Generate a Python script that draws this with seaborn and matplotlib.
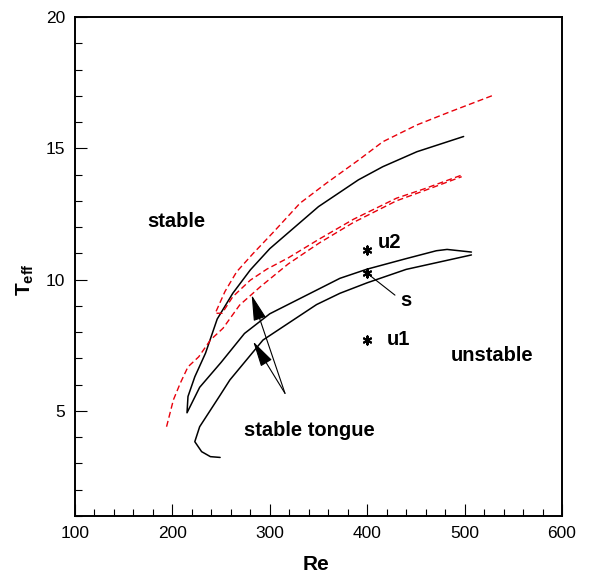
import numpy as np
import pandas as pd
import seaborn as sns
import matplotlib
matplotlib.use("Agg")
import matplotlib.pyplot as plt
from matplotlib.ticker import MultipleLocator

# black boundary: upper branch, tip, then middle branch back up
upper_re = [499, 451, 416, 391, 350, 300, 280, 262, 246, 234, 223, 216, 215]
upper_t = [15.45, 14.87, 14.3, 13.8, 12.78, 11.18, 10.37, 9.48, 8.5, 7.2, 6.3, 5.55, 4.93]
middle_re = [215, 228, 250, 274, 300, 348, 372, 400, 440, 471, 482, 507]
middle_t = [4.93, 5.9, 6.85, 7.95, 8.7, 9.6, 10.05, 10.4, 10.8, 11.1, 11.15, 11.05]
# lower black boundary
lower_re = [507, 440, 400, 372, 348, 293, 259, 249, 228, 223, 230, 239, 249]
lower_t = [10.94, 10.39, 9.88, 9.48, 9.05, 7.7, 6.18, 5.6, 4.4, 3.83, 3.45, 3.26, 3.23]

# red dashed curves
red_outer_re = [528, 485, 451, 416, 391, 358, 331, 304, 283, 266, 254, 244, 251]
red_outer_t = [17.0, 16.39, 15.89, 15.25, 14.55, 13.67, 12.91, 11.82, 11.0, 10.3, 9.55, 8.72, 8.72]
red_inner_re = [251, 262, 280, 297, 319, 351, 386, 430, 458, 497]
red_inner_t = [8.72, 9.35, 9.98, 10.4, 10.83, 11.55, 12.3, 13.1, 13.45, 13.98]
red_long_re = [194, 201, 208, 216, 227, 239, 252, 269, 290, 319, 351, 386, 430, 458, 497]
red_long_t = [4.4, 5.42, 6.05, 6.68, 7.06, 7.7, 8.15, 9.03, 9.72, 10.6, 11.4, 12.18, 13.0, 13.38, 13.92]

# marked points
star_re = [400, 400, 400]
star_t = [11.13, 10.24, 7.7]

# texts (left / baseline)
region_labels = ["stable", "unstable", "stable tongue"]
region_re = [174, 486, 273.5]
region_t = [12.01, 6.91, 4.04]
point_labels = ["u2", "u1"]
point_re = [411, 420]
point_t = [11.2, 7.51]
s_label_pos = (433.7, 9.0)
s_line_end = (428.5, 9.41)

# arrows for "stable tongue"
arrow_tail = (315.6, 5.67)
arrow_heads = [(281.4, 9.41), (283.0, 7.64)]

sns.set_style("ticks")
plt.rcParams['font.family'] = ['Liberation Sans', 'DejaVu Sans']
plt.rcParams['mathtext.fontset'] = 'custom'
plt.rcParams['mathtext.bf'] = 'Liberation Sans:bold'
plt.rcParams['mathtext.rm'] = 'Liberation Sans'
plt.rcParams['lines.scale_dashes'] = False
plt.rcParams['text.color'] = 'black'
plt.rcParams['axes.labelcolor'] = 'black'

fig = plt.figure(figsize=(5.89, 5.73), dpi=100)
ax = fig.add_axes([75 / 589, 57 / 573, 487 / 589, 499 / 573])

black_curves = [
    pd.DataFrame({"Re": upper_re + middle_re[1:], "Teff": upper_t + middle_t[1:]}),
    pd.DataFrame({"Re": lower_re, "Teff": lower_t}),
]
for df in black_curves:
    sns.lineplot(data=df, x="Re", y="Teff", sort=False, estimator=None,
                 color="black", lw=1.1, ax=ax)

red_curves = [
    pd.DataFrame({"Re": red_outer_re + red_inner_re[1:], "Teff": red_outer_t + red_inner_t[1:]}),
    pd.DataFrame({"Re": red_long_re, "Teff": red_long_t}),
]
for df in red_curves:
    sns.lineplot(data=df, x="Re", y="Teff", sort=False, estimator=None,
                 color="#e8000b", lw=1.0, linestyle=(0, (4.3, 2.4)), ax=ax)

sns.scatterplot(x=star_re, y=star_t, marker=(6, 2, 0), s=34, color="black",
                linewidth=1.5, ax=ax, zorder=5)

for lab, x, y in zip(region_labels, region_re, region_t):
    ax.text(x, y, lab, fontsize=14.5, fontweight="bold", ha="left", va="baseline")
for lab, x, y in zip(point_labels, point_re, point_t):
    ax.text(x, y, lab, fontsize=14.5, fontweight="bold", ha="left", va="baseline")
ax.text(s_label_pos[0], s_label_pos[1], "s", fontsize=14.5, fontweight="bold",
        ha="left", va="baseline")
ax.annotate("", xy=(star_re[1], star_t[1]), xytext=s_line_end,
            arrowprops=dict(arrowstyle="-", lw=0.8, color="black",
                            shrinkA=0, shrinkB=2))

for head in arrow_heads:
    ax.annotate("", xy=head, xytext=arrow_tail,
                arrowprops=dict(arrowstyle="-|>,head_length=1.0,head_width=0.25",
                                mutation_scale=16, lw=0.8, color="black",
                                shrinkA=0, shrinkB=0))

ax.set_xlim(100, 600)
ax.set_ylim(1, 20)
ax.xaxis.set_major_locator(MultipleLocator(100))
ax.xaxis.set_minor_locator(MultipleLocator(20))
ax.yaxis.set_major_locator(MultipleLocator(5))
ax.yaxis.set_minor_locator(MultipleLocator(1))
ax.tick_params(which="both", direction="in", top=False, right=False,
               width=0.8, labelsize=12.5, colors="black")
ax.tick_params(which="major", length=8.6, pad=7)
ax.tick_params(which="minor", length=4.7)
for sp in ax.spines.values():
    sp.set_linewidth(1.4)
    sp.set_color("black")

ax.set_xlabel("Re", fontsize=15, fontweight="bold")
ax.set_ylabel(r"$\mathbf{T}_{\mathbf{eff}}$", fontsize=15)
ax.xaxis.set_label_coords(0.495, -0.078)
ax.yaxis.set_label_coords(-0.08, 0.473)

fig.savefig("out.png", dpi=100)
